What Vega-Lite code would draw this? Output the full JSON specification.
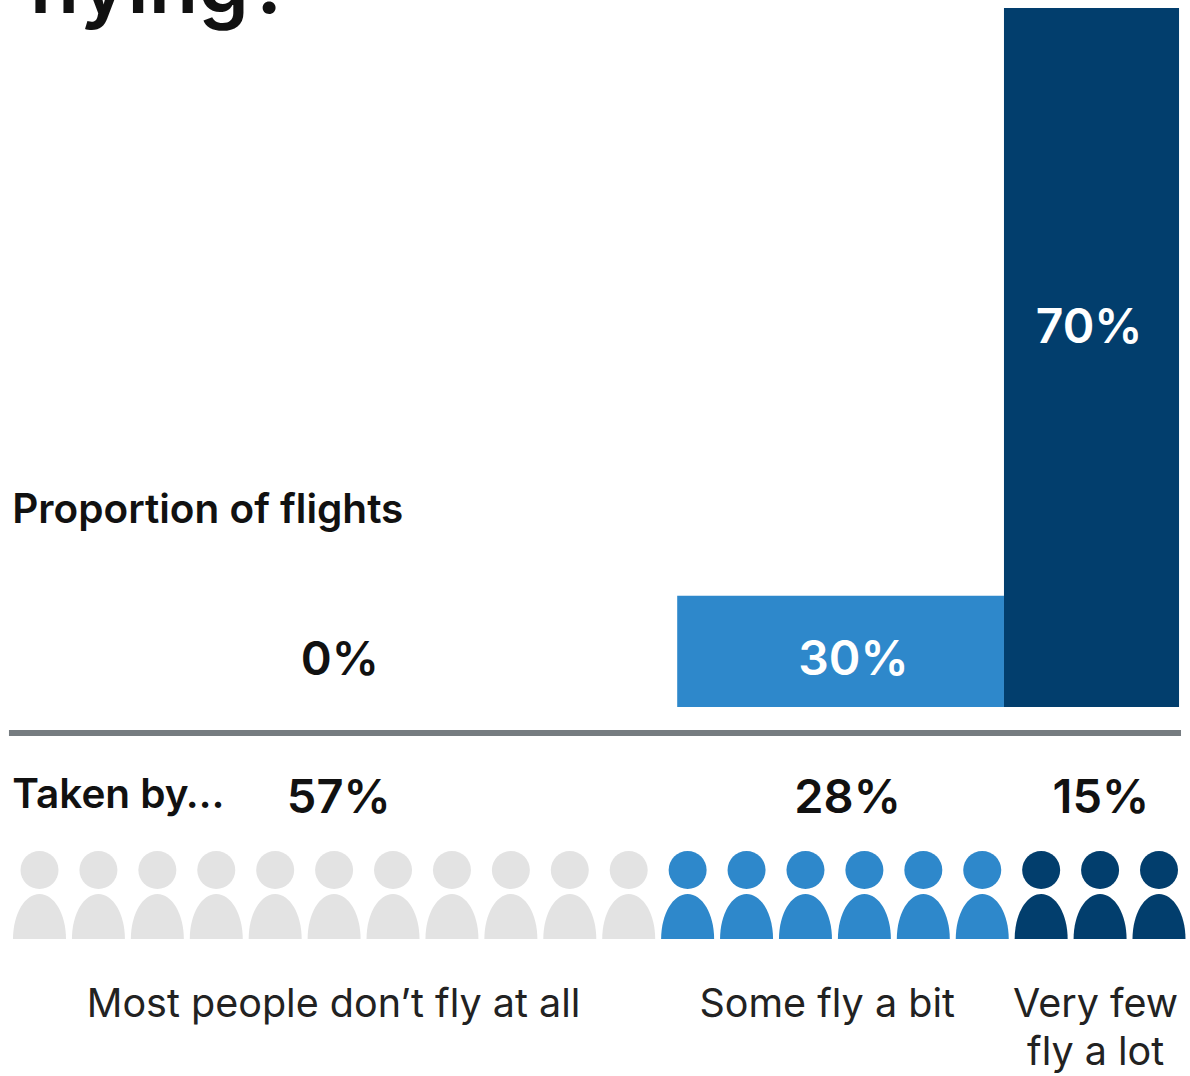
{
  "$schema": "https://vega.github.io/schema/vega-lite/v6.json",
  "width": 1190,
  "height": 1076,
  "padding": 0,
  "autosize": {"type": "none"},
  "background": "white",
  "config": {"view": {"stroke": null}},
  "datasets": {
    "groups": [
      {"group": "none", "people": 57, "flights": 0, "from": 0, "to": 57},
      {"group": "some", "people": 28, "flights": 30, "from": 57, "to": 85},
      {"group": "few", "people": 15, "flights": 70, "from": 85, "to": 100}
    ],
    "crowd": [
      {"person": 1, "group": "none"}, {"person": 2, "group": "none"}, {"person": 3, "group": "none"},
      {"person": 4, "group": "none"}, {"person": 5, "group": "none"}, {"person": 6, "group": "none"},
      {"person": 7, "group": "none"}, {"person": 8, "group": "none"}, {"person": 9, "group": "none"},
      {"person": 10, "group": "none"}, {"person": 11, "group": "none"},
      {"person": 12, "group": "some"}, {"person": 13, "group": "some"}, {"person": 14, "group": "some"},
      {"person": 15, "group": "some"}, {"person": 16, "group": "some"}, {"person": 17, "group": "some"},
      {"person": 18, "group": "few"}, {"person": 19, "group": "few"}, {"person": 20, "group": "few"}
    ],
    "labels": [
      {"kind": "title", "text": "flying?", "at": 1.25, "lane": 0},
      {"kind": "heading", "text": "Proportion of flights", "at": 0.02, "lane": 2},
      {"kind": "heading", "text": "Taken by…", "at": 0.02, "lane": 5},
      {"kind": "dark", "text": "0%", "at": 28.1, "lane": 3},
      {"kind": "light", "text": "30%", "at": 72.1, "lane": 3},
      {"kind": "light", "text": "70%", "at": 92.3, "lane": 1},
      {"kind": "dark", "text": "57%", "at": 28, "lane": 6},
      {"kind": "dark", "text": "28%", "at": 71.6, "lane": 6},
      {"kind": "dark", "text": "15%", "at": 93.3, "lane": 6},
      {"kind": "caption", "text": "Most people don’t fly at all", "at": 27.55, "lane": 9},
      {"kind": "caption", "text": "Some fly a bit", "at": 69.85, "lane": 9},
      {"kind": "caption", "text": "Very few", "at": 92.85, "lane": 9},
      {"kind": "caption", "text": "fly a lot", "at": 92.85, "lane": 10}
    ],
    "divider": [{"from": -0.26, "to": 100.17, "lane": 4}]
  },
  "layer": [
    {
      "description": "Share of flights: width is the share of people, height follows the flight share",
      "data": {"name": "groups"},
      "mark": {"type": "rect"},
      "encoding": {
        "x": {"field": "from", "type": "quantitative", "axis": null,
              "scale": {"domain": [-1.028, 100.94], "range": [0, 1190], "nice": false, "zero": false}},
        "x2": {"field": "to"},
        "y": {"field": "flights", "type": "quantitative", "axis": null,
              "scale": {"type": "pow", "exponent": 2.17, "domain": [0, 70], "range": [707, 8], "nice": false}},
        "y2": {"datum": 0},
        "color": {"field": "group", "type": "nominal", "legend": null,
                  "scale": {"domain": ["none", "some", "few"], "range": ["#E3E3E3", "#2E88CB", "#023E6D"]}}
      }
    },
    {
      "description": "Divider between flights and people",
      "data": {"name": "divider"},
      "mark": {"type": "rule", "stroke": "#767C80", "strokeWidth": 6},
      "encoding": {
        "x": {"field": "from", "type": "quantitative", "axis": null,
              "scale": {"domain": [-1.028, 100.94], "range": [0, 1190], "nice": false, "zero": false}},
        "x2": {"field": "to"},
        "y": {"field": "lane", "type": "quantitative", "axis": null,
              "scale": {"domain": [0, 1, 2, 3, 4, 5, 6, 7, 8, 9, 10],
                        "range": [13, 343, 523, 675, 733, 808, 813, 870, 916.5, 1017, 1065], "nice": false, "zero": false}}
      }
    },
    {
      "description": "Person heads",
      "data": {"name": "crowd"},
      "mark": {"type": "point", "shape": "circle", "filled": true, "opacity": 1, "size": 1444},
      "encoding": {
        "x": {"field": "person", "type": "quantitative", "axis": null,
              "scale": {"domain": [1, 20], "range": [39.5, 1159], "nice": false, "zero": false}},
        "y": {"datum": 7, "type": "quantitative", "axis": null,
              "scale": {"domain": [0, 1, 2, 3, 4, 5, 6, 7, 8, 9, 10],
                        "range": [13, 343, 523, 675, 733, 808, 813, 870, 916.5, 1017, 1065], "nice": false, "zero": false}},
        "color": {"field": "group", "type": "nominal", "legend": null,
                  "scale": {"domain": ["none", "some", "few"], "range": ["#E3E3E3", "#2E88CB", "#023E6D"]}}
      }
    },
    {
      "description": "Person bodies",
      "data": {"name": "crowd"},
      "mark": {"type": "point", "filled": true, "opacity": 1, "size": 2809,
               "shape": "M-1,0.85 C-1,-0.1 -0.55,-0.85 0,-0.85 C0.55,-0.85 1,-0.1 1,0.85 Z"},
      "encoding": {
        "x": {"field": "person", "type": "quantitative", "axis": null,
              "scale": {"domain": [1, 20], "range": [39.5, 1159], "nice": false, "zero": false}},
        "y": {"datum": 8, "type": "quantitative", "axis": null,
              "scale": {"domain": [0, 1, 2, 3, 4, 5, 6, 7, 8, 9, 10],
                        "range": [13, 343, 523, 675, 733, 808, 813, 870, 916.5, 1017, 1065], "nice": false, "zero": false}},
        "color": {"field": "group", "type": "nominal", "legend": null,
                  "scale": {"domain": ["none", "some", "few"], "range": ["#E3E3E3", "#2E88CB", "#023E6D"]}}
      }
    },
    {
      "description": "Title, cut by the top edge of the page",
      "data": {"name": "labels"},
      "transform": [{"filter": "datum.kind === 'title'"}],
      "mark": {"type": "text", "font": "Inter", "fontWeight": 600, "fontSize": 81, "align": "left", "baseline": "alphabetic", "color": "#111111"},
      "encoding": {
        "x": {"field": "at", "type": "quantitative", "axis": null,
              "scale": {"domain": [-1.028, 100.94], "range": [0, 1190], "nice": false, "zero": false}},
        "y": {"field": "lane", "type": "quantitative", "axis": null,
              "scale": {"domain": [0, 1, 2, 3, 4, 5, 6, 7, 8, 9, 10],
                        "range": [13, 343, 523, 675, 733, 808, 813, 870, 916.5, 1017, 1065], "nice": false, "zero": false}},
        "text": {"field": "text"}
      }
    },
    {
      "description": "Row headings",
      "data": {"name": "labels"},
      "transform": [{"filter": "datum.kind === 'heading'"}],
      "mark": {"type": "text", "font": "Inter", "fontWeight": 600, "fontSize": 40.5, "align": "left", "baseline": "alphabetic", "color": "#111111"},
      "encoding": {
        "x": {"field": "at", "type": "quantitative", "axis": null,
              "scale": {"domain": [-1.028, 100.94], "range": [0, 1190], "nice": false, "zero": false}},
        "y": {"field": "lane", "type": "quantitative", "axis": null,
              "scale": {"domain": [0, 1, 2, 3, 4, 5, 6, 7, 8, 9, 10],
                        "range": [13, 343, 523, 675, 733, 808, 813, 870, 916.5, 1017, 1065], "nice": false, "zero": false}},
        "text": {"field": "text"}
      }
    },
    {
      "description": "Percentages printed on white",
      "data": {"name": "labels"},
      "transform": [{"filter": "datum.kind === 'dark'"}],
      "mark": {"type": "text", "font": "Inter", "fontWeight": 600, "fontSize": 47, "align": "center", "baseline": "alphabetic", "color": "#111111"},
      "encoding": {
        "x": {"field": "at", "type": "quantitative", "axis": null,
              "scale": {"domain": [-1.028, 100.94], "range": [0, 1190], "nice": false, "zero": false}},
        "y": {"field": "lane", "type": "quantitative", "axis": null,
              "scale": {"domain": [0, 1, 2, 3, 4, 5, 6, 7, 8, 9, 10],
                        "range": [13, 343, 523, 675, 733, 808, 813, 870, 916.5, 1017, 1065], "nice": false, "zero": false}},
        "text": {"field": "text"}
      }
    },
    {
      "description": "Percentages printed on the bars",
      "data": {"name": "labels"},
      "transform": [{"filter": "datum.kind === 'light'"}],
      "mark": {"type": "text", "font": "Inter", "fontWeight": 600, "fontSize": 48, "align": "center", "baseline": "alphabetic", "color": "#FFFFFF"},
      "encoding": {
        "x": {"field": "at", "type": "quantitative", "axis": null,
              "scale": {"domain": [-1.028, 100.94], "range": [0, 1190], "nice": false, "zero": false}},
        "y": {"field": "lane", "type": "quantitative", "axis": null,
              "scale": {"domain": [0, 1, 2, 3, 4, 5, 6, 7, 8, 9, 10],
                        "range": [13, 343, 523, 675, 733, 808, 813, 870, 916.5, 1017, 1065], "nice": false, "zero": false}},
        "text": {"field": "text"}
      }
    },
    {
      "description": "Captions under the crowd",
      "data": {"name": "labels"},
      "transform": [{"filter": "datum.kind === 'caption'"}],
      "mark": {"type": "text", "font": "Inter", "fontWeight": 400, "fontSize": 39.5, "align": "center", "baseline": "alphabetic", "color": "#222222"},
      "encoding": {
        "x": {"field": "at", "type": "quantitative", "axis": null,
              "scale": {"domain": [-1.028, 100.94], "range": [0, 1190], "nice": false, "zero": false}},
        "y": {"field": "lane", "type": "quantitative", "axis": null,
              "scale": {"domain": [0, 1, 2, 3, 4, 5, 6, 7, 8, 9, 10],
                        "range": [13, 343, 523, 675, 733, 808, 813, 870, 916.5, 1017, 1065], "nice": false, "zero": false}},
        "text": {"field": "text"}
      }
    }
  ],
  "resolve": {"scale": {"x": "independent", "y": "independent", "color": "shared"}}
}
